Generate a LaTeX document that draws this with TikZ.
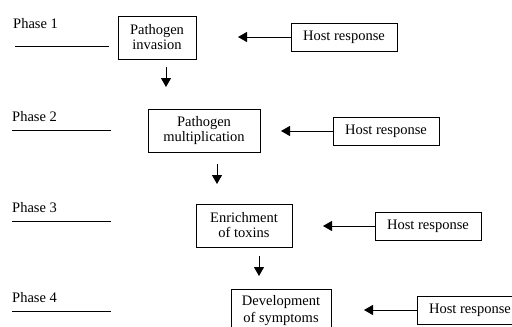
\documentclass[tikz,border=0pt]{standalone}
\usepackage{fontspec}
\setmainfont{Liberation Serif}
\usetikzlibrary{arrows.meta}
\begin{document}
\begin{tikzpicture}[x=1pt,y=-1pt,
  every node/.style={font=\fontsize{14.5}{15}\selectfont},
  stage/.style={draw,line width=0.9pt,minimum height=43pt,inner sep=0pt,align=center},
  host/.style={draw,line width=0.9pt,minimum width=106pt,minimum height=28pt,inner sep=0pt},
  phase/.style={anchor=west,inner sep=0pt},
  arr/.style={line width=0.9pt,-{Triangle[length=9pt,width=10pt]}},
  rule/.style={line width=0.9pt}]
\useasboundingbox (0,0) rectangle (512,327);
\begin{scope}
\clip (0,0) rectangle (512,327);
% phases
\node[phase] (p1) at (13,24) {Phase 1};
\node[phase] (p2) at (12,117) {Phase 2};
\node[phase] (p3) at (12,208) {Phase 3};
\node[phase] (p4) at (12,298) {Phase 4};
\coordinate (l1a) at (15,46); \coordinate (l1b) at (109,46);
\coordinate (l2a) at (12,130); \coordinate (l2b) at (111,130);
\coordinate (l3a) at (12,221); \coordinate (l3b) at (111,221);
\coordinate (l4a) at (12,311); \coordinate (l4b) at (111,311);
\draw[rule] (l1a) -- (l1b);
\draw[rule] (l2a) -- (l2b);
\draw[rule] (l3a) -- (l3b);
\draw[rule] (l4a) -- (l4b);
% stages
\node[stage,minimum width=78pt] (s1) at (157,37.5) {Pathogen\\invasion};
\node[stage,minimum width=112pt] (s2) at (204,130.5) {Pathogen\\multiplication};
\node[stage,minimum width=96pt] (s3) at (244,225.5) {Enrichment\\of toxins};
\node[stage,minimum width=100pt,anchor=north,font=\fontsize{14.5}{17}\selectfont] (s4) at (281,289) {Development\\of symptoms};
% host responses
\node[host] (h1) at (344,37) {Host response};
\node[host] (h2) at (386,131) {Host response};
\node[host] (h3) at (428,226) {Host response};
\node[host] (h4) at (470,310) {Host response};
% arrow ends
\coordinate (t1) at (238,37);
\coordinate (t2) at (281,131);
\coordinate (t3) at (323,226);
\coordinate (t4) at (364,310);
\draw[arr] (h1.west) -- (t1);
\draw[arr] (h2.west) -- (t2);
\draw[arr] (h3.west) -- (t3);
\draw[arr] (h4.west) -- (t4);
% down arrows
\coordinate (d1a) at (166,67); \coordinate (d1b) at (166,87);
\coordinate (d2a) at (217,164); \coordinate (d2b) at (217,184);
\coordinate (d3a) at (259,256); \coordinate (d3b) at (259,276);
\draw[arr] (d1a) -- (d1b);
\draw[arr] (d2a) -- (d2b);
\draw[arr] (d3a) -- (d3b);
\end{scope}
\end{tikzpicture}
\end{document}
